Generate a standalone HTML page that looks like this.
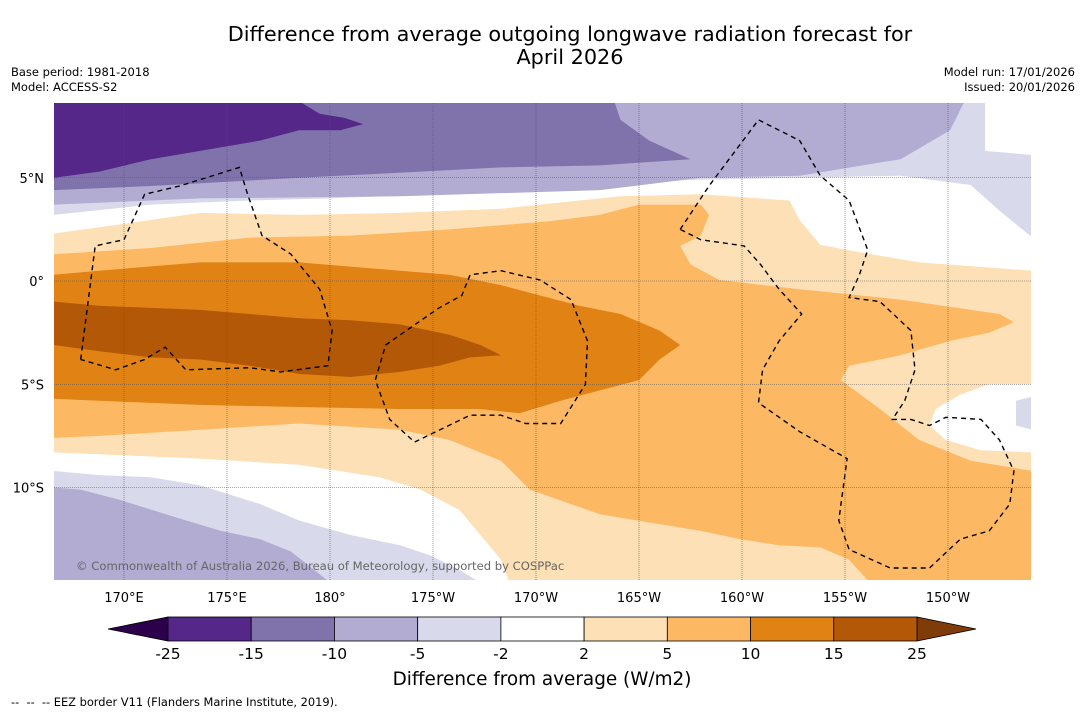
<!DOCTYPE html>
<html><head><meta charset="utf-8">
<style>
body{margin:0;background:#fff;font-family:"DejaVu Sans","Liberation Sans",sans-serif;}
svg{display:block}
</style></head>
<body>
<svg id="chart" width="1085" height="713" viewBox="0 0 1085 713" xmlns="http://www.w3.org/2000/svg">
<rect width="1085" height="713" fill="#fff"/>
<text x="570" y="41" text-anchor="middle" font-size="20.8">Difference from average outgoing longwave radiation forecast for</text>
<text x="570" y="64" text-anchor="middle" font-size="20.8">April 2026</text>
<text x="11" y="76" font-size="11.5">Base period: 1981-2018</text>
<text x="11" y="91" font-size="11.5">Model: ACCESS-S2</text>
<text x="1075" y="76" font-size="11.5" text-anchor="end">Model run: 17/01/2026</text>
<text x="1075" y="91" font-size="11.5" text-anchor="end">Issued: 20/01/2026</text>
<defs><clipPath id="mapclip"><rect x="54" y="103" width="977" height="477"/></clipPath></defs>
<g id="map" clip-path="url(#mapclip)"></g>
<g id="axes"></g>
<text x="76" y="570" font-size="11.6" fill="#666">© Commonwealth of Australia 2026, Bureau of Meteorology, supported by COSPPac</text>
<g id="cbar"></g>
<text x="542" y="685" text-anchor="middle" font-size="18.4">Difference from average (W/m2)</text>
<text x="11" y="706" font-size="11.4" xml:space="preserve">--  --  -- EEZ border V11 (Flanders Marine Institute, 2019).</text>
</svg>
<script>
// ---- data (lon in degrees east, lat in degrees) ----
const lonTicks=[170,175,180,185,190,195,200,205,210];
const lonLabels=["170°E","175°E","180°","175°W","170°W","165°W","160°W","155°W","150°W"];
const latTicks=[5,0,-5,-10];
const latLabels=["5°N","0°","5°S","10°S"];
const levels=["-25","-15","-10","-5","-2","2","5","10","15","25"];
const levelColors=["#542788","#8073ac","#b2abd2","#d8daeb","#ffffff","#fee0b6","#fdb863","#e08214","#b35806"];
// contour regions: [colorIndex, outline]
const lavTop=[[166.6,8.7],[214.1,8.7],[214.1,2.1],[212.5,3.4],[211.1,4.65],[207.7,5.1],[200.4,4.95],[195.5,4.85],[193.1,4.5],[189.7,4.3],[184.9,4.2],[180,4.0],[176.1,3.9],[171.3,3.7],[166.6,3.2]];
const whiteTR=[[211.8,8.7],[214.1,8.7],[214.1,6.1],[211.8,6.3]];
const lpTop=[[166.6,8.7],[210.8,8.7],[210.1,7.3],[207.7,5.9],[202.8,5.1],[198,5.0],[193.1,4.4],[183.4,4.1],[173.7,4.0],[166.6,3.7]];
const mpTop=[[166.6,8.7],[193.8,8.7],[194.1,7.8],[195.5,6.8],[197.5,5.9],[193.1,5.6],[188.3,5.5],[184.4,5.3],[178.5,5.0],[171.3,4.6],[166.6,4.4]];
const dpTop=[[166.6,8.7],[178.5,8.7],[179.5,8.1],[180.7,7.9],[181.6,7.6],[180.5,7.3],[178.5,7.3],[176.6,6.8],[173.7,6.3],[171.3,5.9],[168.8,5.3],[166.6,5.0]];
const lavBL=[[166.6,-9.2],[168.8,-9.4],[171.3,-9.5],[173.7,-9.9],[176.6,-10.8],[178.5,-11.6],[181,-12.3],[183.4,-12.8],[184.9,-13.3],[186.3,-14.0],[187.3,-14.6],[166.6,-14.6]];
const lpBL=[[166.6,-10.0],[167.9,-10.1],[169.8,-10.6],[172.7,-11.5],[174.7,-12.1],[176.6,-12.5],[178.1,-13.1],[179,-13.8],[180,-14.6],[166.6,-14.6]];
const loMain=[[166.6,2.3],[168.8,2.6],[173.7,3.3],[178.5,3.2],[183.4,3.3],[188.3,3.5],[192.1,3.9],[194.1,4.1],[198,4.2],[202.3,3.9],[202.8,2.95],[203.8,1.75],[205.7,1.4],[208.6,0.9],[214.1,0.5],[214.1,-14.6],[188.7,-14.6],[188.3,-13.5],[187.3,-12.3],[186.3,-11.1],[184.4,-10.1],[182.4,-9.5],[178.5,-8.9],[173.7,-8.6],[166.6,-8.3]];
const whiteMid=[[214.1,-5.0],[212,-5.0],[210.6,-5.5],[209.4,-6.2],[209.1,-7.0],[209.9,-7.7],[211.6,-8.2],[214.1,-8.3]];
const lavMid=[[213.3,-5.8],[214.1,-5.6],[214.1,-7.2],[213.3,-7.0]];
const oMain=[[166.6,1.3],[171.3,1.6],[176.1,2.1],[181,2.2],[185.8,2.5],[190.7,2.9],[193.1,3.2],[195,3.7],[198,3.7],[198.4,3.2],[198,2.2],[197,1.7],[197.5,0.8],[198.9,0.05],[202.8,-0.4],[207.7,-0.9],[212.5,-1.6],[213.2,-2.0],[212,-2.5],[210.1,-2.9],[207.7,-3.6],[205.2,-4.1],[204.8,-4.8],[206.7,-6.2],[208.6,-7.7],[211.1,-8.7],[214.1,-9.2],[214.1,-14.6],[206.2,-14.6],[205.2,-13.5],[203.8,-12.9],[201.8,-12.8],[199.9,-12.5],[198,-12.1],[193.1,-11.3],[189.7,-10.1],[188.3,-8.7],[185.8,-7.7],[183.4,-7.2],[178.5,-6.9],[173.7,-7.2],[168.8,-7.5],[166.6,-7.6]];
const dMain=[[166.6,0.3],[168.8,0.5],[173.7,0.9],[178.5,0.9],[183.4,0.5],[185.8,0.3],[188.3,-0.2],[190.2,-0.7],[192.1,-1.2],[194.1,-1.6],[196,-2.4],[197,-3.1],[196,-3.8],[195,-4.8],[193.1,-5.3],[191.2,-5.8],[189.2,-6.4],[187.3,-6.2],[183.4,-6.2],[178.5,-6.1],[173.7,-6.0],[168.8,-5.8],[166.6,-5.7]];
const bMain=[[166.6,-1.0],[168.8,-1.2],[173.7,-1.4],[178.5,-1.8],[181,-1.9],[183.4,-2.1],[185.8,-2.6],[187.3,-3.1],[188.3,-3.6],[186.8,-3.7],[185.3,-4.1],[183.4,-4.4],[181,-4.65],[178.5,-4.5],[176.1,-4.1],[173.7,-3.8],[171.3,-3.7],[168.8,-3.4],[166.6,-3.1]];
const regions=[[3,lavTop],[4,whiteTR],[2,lpTop],[1,mpTop],[0,dpTop],[3,lavBL],[2,lpBL],[5,loMain],[6,oMain],[4,whiteMid],[3,lavMid],[7,dMain],[8,bMain]];
const eezA=[[167.9,-3.8],[168.6,1.7],[170,2.0],[171,4.2],[172.7,4.6],[175.6,5.5],[176,4.2],[176.7,2.2],[178.1,1.3],[179.5,-0.4],[180.1,-2.4],[179.9,-4.1],[177.6,-4.4],[176.1,-4.2],[173,-4.3],[172,-3.2],[171,-3.8],[169.6,-4.3],[167.9,-3.8]];
const eezB=[[182.7,-3.1],[185.3,-1.3],[186.4,-0.7],[186.8,0.3],[188.3,0.5],[190.2,0.05],[191.7,-0.9],[192.5,-2.9],[192.4,-5.0],[191.2,-6.9],[189.5,-6.9],[188.3,-6.5],[186.8,-6.5],[184.1,-7.8],[182.9,-6.7],[182.2,-4.8],[182.7,-3.1]];
const eezC=[[197,2.5],[198.4,4.6],[200.8,7.8],[202.8,6.8],[203.8,5.1],[205.2,3.9],[206.1,1.5],[205.7,0.3],[205.2,-0.8],[206.7,-1.0],[208.2,-2.4],[208.4,-4.3],[207.9,-5.8],[207.3,-6.7],[208.2,-6.7],[209.1,-7.0],[209.9,-6.6],[211.6,-6.7],[212.5,-7.7],[213.2,-9.2],[213,-10.8],[212,-12.1],[210.6,-12.5],[209.1,-13.9],[207.2,-13.9],[205.2,-13.0],[204.7,-11.6],[205.1,-8.6],[202.8,-7.3],[200.8,-5.9],[201,-4.3],[201.8,-2.9],[202.9,-1.6],[201.8,-0.4],[200.9,0.8],[200.1,1.7],[198,2.0],[197,2.5]];
const eezLines=[eezA,eezB,eezC];

// ---- axis functions ----
const xOf=lon=>124+(lon-170)*20.6;
const yOf=lat=>281-lat*20.65;
const NS="http://www.w3.org/2000/svg";
function mk(tag,attrs,parent){const e=document.createElementNS(NS,tag);for(const k in attrs)e.setAttribute(k,attrs[k]);parent.appendChild(e);return e;}
const map=document.getElementById('map');
regions.forEach(([ci,pts])=>{
  const p=mk('polygon',{points:pts.map(([lo,la])=>xOf(lo).toFixed(1)+','+yOf(la).toFixed(1)).join(' '),fill:levelColors[ci]},map);
  
  
});
eezLines.forEach(pts=>{
  const p=mk('polyline',{points:pts.map(([lo,la])=>xOf(lo).toFixed(1)+','+yOf(la).toFixed(1)).join(' '),fill:'none',stroke:'#000','stroke-width':1.4,'stroke-dasharray':'5,4'},map);
  
  
});
const axes=document.getElementById('axes');
lonTicks.forEach((lo,i)=>{
  const l=mk('line',{x1:xOf(lo),x2:xOf(lo),y1:103,y2:580,stroke:'#555','stroke-width':0.6,'stroke-dasharray':'1,1'},axes);
  
  
  const t=mk('text',{x:xOf(lo),y:602,'text-anchor':'middle','font-size':13},axes);
  t.textContent=lonLabels[i];
  
  
});
latTicks.forEach((la,i)=>{
  const l=mk('line',{x1:54,x2:1031,y1:yOf(la),y2:yOf(la),stroke:'#555','stroke-width':0.6,'stroke-dasharray':'1,1'},axes);
  
  
  const t=mk('text',{x:44,y:yOf(la)+5,'text-anchor':'end','font-size':13},axes);
  t.textContent=latLabels[i];
  
  
});
// colorbar
const cb=document.getElementById('cbar');
const cx0=168,cx1=917,cy=617,ch=24,bw=(cx1-cx0)/levelColors.length;
const lt=mk('polygon',{points:`${cx0},${cy} ${cx0},${cy+ch} 108,${cy+ch/2}`,fill:'#2d004b',stroke:'#000','stroke-width':0.8},cb);


const rt=mk('polygon',{points:`${cx1},${cy} ${cx1},${cy+ch} 976,${cy+ch/2}`,fill:'#7f3b08',stroke:'#000','stroke-width':0.8},cb);


levelColors.forEach((c,i)=>{
  const r=mk('rect',{x:cx0+i*bw,y:cy,width:bw,height:ch,fill:c,stroke:'#000','stroke-width':0.8},cb);
  
  
});
levels.forEach((lv,i)=>{
  const t=mk('text',{x:cx0+i*bw,y:659,'text-anchor':'middle','font-size':15.5},cb);
  t.textContent=lv;
  
  
});
</script>
</body></html>
